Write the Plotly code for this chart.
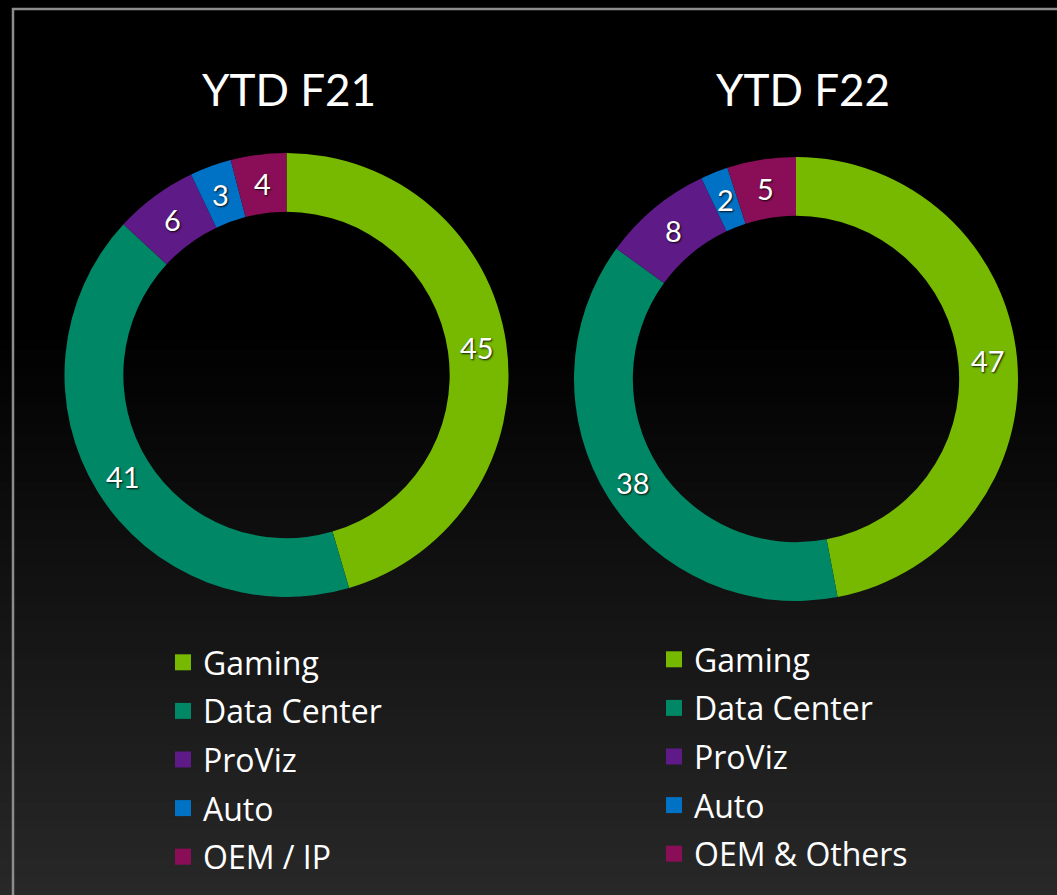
import math
import plotly.graph_objects as go

W, H = 1057, 895

categories_f21 = ["Gaming", "Data Center", "ProViz", "Auto", "OEM / IP"]
values_f21 = [45, 41, 6, 3, 4]
categories_f22 = ["Gaming", "Data Center", "ProViz", "Auto", "OEM & Others"]
values_f22 = [47, 38, 8, 2, 5]
colors = ["#76b900", "#008766", "#5e1a86", "#0072c6", "#8a0e57"]
titles = ["YTD F21", "YTD F22"]

FONT = "Lato"
LEG_FONT = "Open Sans"

fig = go.Figure()

# background gradient (black top -> dark grey bottom)
n_bands = 60
g_top, g_bot = 330, H
for i in range(n_bands):
    y0 = g_top + (g_bot - g_top) * i / n_bands
    y1 = g_top + (g_bot - g_top) * (i + 1) / n_bands + 1
    v = int(round(40 * (i + 0.5) / n_bands))
    fig.add_shape(type="rect", xref="paper", yref="paper", layer="below",
                  x0=0, x1=1, y0=1 - y1 / H, y1=1 - y0 / H,
                  fillcolor=f"rgb({v},{v},{v})", line=dict(width=0))
# frame
fig.add_shape(type="rect", xref="paper", yref="paper", layer="below",
              x0=13 / W, x1=1.05, y0=-0.05, y1=1 - 9 / H,
              line=dict(color="#8c8c8c", width=2.5), fillcolor="rgba(0,0,0,0)")

R_OUT = 222
HOLE = 0.735
centers = [(286.5, 375), (796, 379)]
title_x = [289, 803]
datasets = [(categories_f21, values_f21), (categories_f22, values_f22)]

for k, ((cx, cy), (cats, vals)) in enumerate(zip(centers, datasets)):
    fig.add_trace(go.Pie(
        labels=cats, values=vals, sort=False, direction="clockwise", rotation=0,
        hole=HOLE, marker=dict(colors=colors, line=dict(width=0)),
        textinfo="none", hoverinfo="label+value", showlegend=False,
        domain=dict(x=[(cx - R_OUT) / W, (cx + R_OUT) / W],
                    y=[1 - (cy + R_OUT) / H, 1 - (cy - R_OUT) / H]),
    ))
    # value labels at middle of ring
    total = sum(vals)
    r_mid = R_OUT * (1 + HOLE) / 2
    cum = 0
    for v in vals:
        a = 2 * math.pi * (cum + v / 2) / total
        cum += v
        px = cx + r_mid * math.sin(a)
        py = cy - r_mid * math.cos(a)
        fig.add_annotation(x=px / W, y=1 - py / H, xref="paper", yref="paper",
                           xanchor="center", yanchor="middle",
                           text=str(v), showarrow=False,
                           font=dict(family=FONT, size=29, color="white",
                                     shadow="1px 1px 2px rgba(0,0,0,0.9)"))
    fig.add_annotation(x=title_x[k] / W, y=1 - 89 / H, xref="paper", yref="paper",
                       xanchor="center", yanchor="middle",
                       text=titles[k], showarrow=False,
                       font=dict(family=FONT, size=44, color="white"))

# legends
for k, cats in enumerate([categories_f21, categories_f22]):
    lg = "legend" if k == 0 else "legend2"
    for i, c in enumerate(cats):
        fig.add_trace(go.Scatter(
            x=[None], y=[None], mode="markers", name=c,
            marker=dict(symbol="square", size=18, color=colors[i]),
            legend=lg, legendgroup=f"{k}-{i}", showlegend=True,
        ))

leg_common = dict(font=dict(family=LEG_FONT, size=32, color="white"),
                  bgcolor="rgba(0,0,0,0)", tracegroupgap=4,
                  xanchor="left", yanchor="top", itemsizing="trace")

fig.update_layout(
    width=W, height=H,
    margin=dict(l=0, r=0, t=0, b=0),
    paper_bgcolor="black", plot_bgcolor="rgba(0,0,0,0)",
    xaxis=dict(visible=False), yaxis=dict(visible=False),
    legend=dict(x=163 / W, y=1 - 635 / H, **leg_common),
    legend2=dict(x=654 / W, y=1 - 632 / H, **leg_common),
)

fig.write_html(
    "out.html",
    config={"displayModeBar": False},
    post_script="document.body.style.margin='0px';"
                "document.body.style.background='black';"
                "document.documentElement.style.overflow='hidden';",
)
